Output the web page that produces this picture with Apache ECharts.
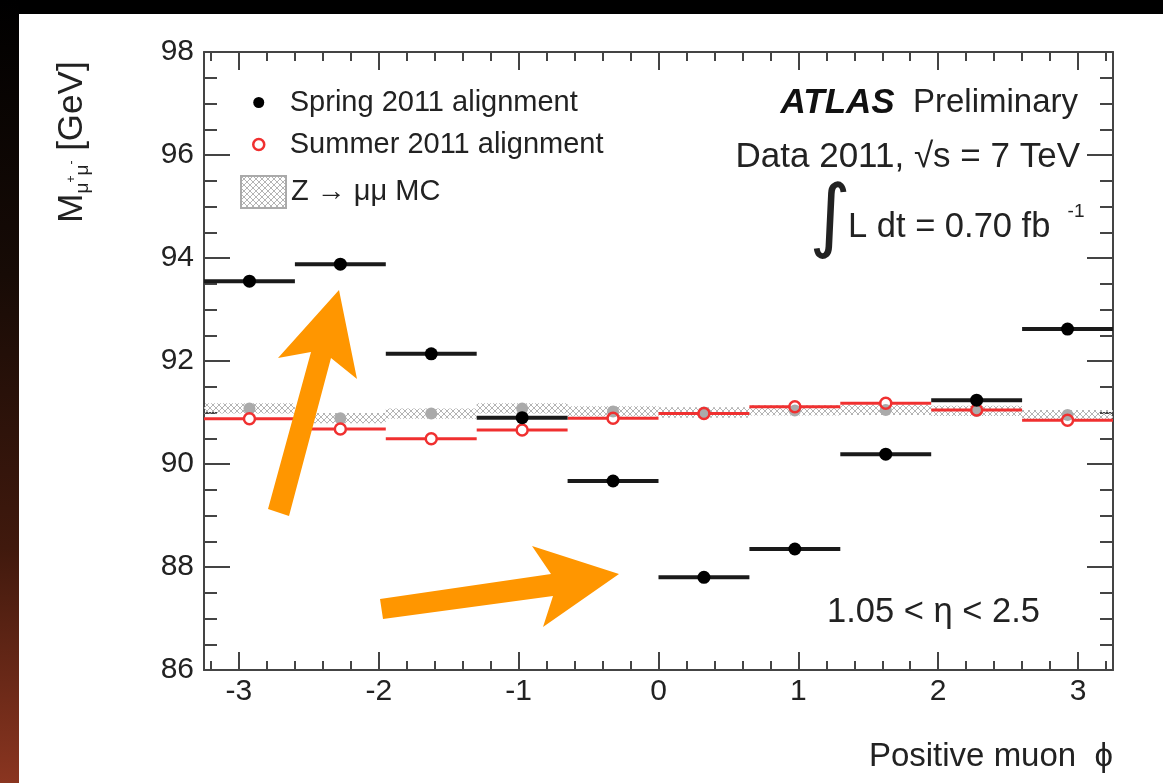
<!DOCTYPE html>
<html>
<head>
<meta charset="utf-8">
<script src="https://cdn.jsdelivr.net/npm/echarts@6/dist/echarts.min.js"></script>
<style>
  html, body { margin: 0; padding: 0; background: #000; }
  #chart { width: 1163px; height: 783px; }
</style>
</head>
<body>
<div id="chart"></div>
<script>
// phi bins: 10 bins of width 0.65 between -3.25 and 3.25
var phiCenters = [-2.925, -2.275, -1.625, -0.975, -0.325, 0.325, 0.975, 1.625, 2.275, 2.925];
var phiHalfWidth = 0.325;

// dimuon mass per bin [GeV]
var springMass = [93.55, 93.88, 92.14, 90.90, 89.67, 87.80, 88.35, 90.19, 91.24, 92.62];
var summerMass = [90.88, 90.68, 90.49, 90.66, 90.89, 90.98, 91.11, 91.18, 91.05, 90.85];
var mcMass     = [91.08, 90.89, 90.98, 91.08, 91.02, 91.00, 91.04, 91.05, 91.03, 90.95];
var mcErr      = [0.10, 0.10, 0.10, 0.10, 0.10, 0.10, 0.10, 0.10, 0.10, 0.10];

var xMajorTicks = [-3, -2, -1, 0, 1, 2, 3];
var xMinorTicks = [-3.2, -3.0, -2.8, -2.6, -2.4, -2.2, -2.0, -1.8, -1.6, -1.4, -1.2, -1.0, -0.8, -0.6, -0.4, -0.2, 0,
                   0.2, 0.4, 0.6, 0.8, 1.0, 1.2, 1.4, 1.6, 1.8, 2.0, 2.2, 2.4, 2.6, 2.8, 3.0, 3.2];

var FONT = 'Liberation Sans, Arial, Helvetica, sans-serif';
var AXIS_COLOR = '#444';

function makeHatch() {
  var c = document.createElement('canvas');
  c.width = 6; c.height = 6;
  var ctx = c.getContext('2d');
  ctx.strokeStyle = '#b4b4b4';
  ctx.lineWidth = 1;
  ctx.beginPath();
  ctx.moveTo(0, 0); ctx.lineTo(6, 6);
  ctx.moveTo(6, 0); ctx.lineTo(0, 6);
  ctx.stroke();
  return c;
}
var hatch = { image: makeHatch(), repeat: 'repeat' };

function pairs(ys) {
  return phiCenters.map(function (x, i) { return [x, ys[i], i]; });
}

// horizontal bin-width bar with a marker at the centre
function pointRenderer(o) {
  return function (params, api) {
    var x = api.value(0), y = api.value(1);
    var c = api.coord([x, y]);
    var l = api.coord([x - phiHalfWidth, y]);
    var r = api.coord([x + phiHalfWidth, y]);
    var gap = o.gap || 0;
    var kids = [];
    if (o.lineWidth) {
      kids.push({ type: 'line', shape: { x1: l[0], y1: l[1], x2: c[0] - gap, y2: c[1] },
        style: { stroke: o.color, lineWidth: o.lineWidth } });
      kids.push({ type: 'line', shape: { x1: c[0] + gap, y1: c[1], x2: r[0], y2: r[1] },
        style: { stroke: o.color, lineWidth: o.lineWidth } });
    }
    kids.push({ type: 'circle', shape: { cx: c[0], cy: c[1], r: o.r },
      style: { fill: o.fill, stroke: o.stroke || null, lineWidth: o.strokeWidth || 0 } });
    return { type: 'group', children: kids };
  };
}

function renderMC(params, api) {
  var x = api.value(0), y = api.value(1), i = api.value(2);
  var p1 = api.coord([x - phiHalfWidth, y + mcErr[i]]);
  var p2 = api.coord([x + phiHalfWidth, y - mcErr[i]]);
  var c = api.coord([x, y]);
  return { type: 'group', children: [
    { type: 'rect', shape: { x: p1[0], y: p1[1], width: p2[0] - p1[0], height: p2[1] - p1[1] },
      style: { fill: hatch } },
    { type: 'circle', shape: { cx: c[0], cy: c[1], r: 6 }, style: { fill: '#aaaaaa' } }
  ] };
}

function xAxisDef(pos, ticks, len, labels, line) {
  return {
    type: 'value', position: pos, min: -3.25, max: 3.25,
    axisLine: { show: line, onZero: false, lineStyle: { color: AXIS_COLOR, width: 2 } },
    axisTick: { show: true, inside: true, length: len, customValues: ticks,
      lineStyle: { color: AXIS_COLOR, width: 2 } },
    axisLabel: labels ? { show: true, customValues: ticks, margin: 7,
      fontFamily: FONT, fontSize: 30, color: '#222' } : { show: false },
    splitLine: { show: false }
  };
}

function yAxisDef(pos, labels) {
  return {
    type: 'value', position: pos, min: 86, max: 98, interval: 2,
    axisLine: { show: true, onZero: false, lineStyle: { color: AXIS_COLOR, width: 2 } },
    axisTick: { show: true, inside: true, length: 26, lineStyle: { color: AXIS_COLOR, width: 2 } },
    minorTick: { show: true, splitNumber: 4, length: 13, lineStyle: { color: AXIS_COLOR, width: 2 } },
    axisLabel: labels ? { show: true, margin: 10, fontFamily: FONT, fontSize: 30, color: '#222' } : { show: false },
    splitLine: { show: false }
  };
}

var chart = echarts.init(document.getElementById('chart'));

var bottomX = xAxisDef('bottom', xMajorTicks, 18, true, true);
bottomX.name = 'Positive muon  \u03d5';
bottomX.nameLocation = 'end';
bottomX.nameGap = 0;
bottomX.nameTextStyle = { fontFamily: FONT, fontSize: 33, color: '#222', align: 'right',
  verticalAlign: 'top', padding: [70, 0, 0, 0] };

var option = {
  backgroundColor: '#fff',
  animation: false,
  grid: { left: 204, right: 50, top: 52, bottom: 113 },
  xAxis: [
    bottomX,
    xAxisDef('bottom', xMinorTicks, 9, false, false),
    xAxisDef('top', xMajorTicks, 18, false, true),
    xAxisDef('top', xMinorTicks, 9, false, false)
  ],
  yAxis: [yAxisDef('left', true), yAxisDef('right', false)],
  legend: [
    {
      orient: 'vertical', left: 247, top: 83, itemWidth: 36, itemHeight: 11, itemGap: 13,
      selectedMode: false,
      textStyle: { fontFamily: FONT, fontSize: 29, color: '#222', padding: [0, 0, 0, 8] },
      data: [
        { name: 'Spring 2011 alignment', icon: 'circle', itemStyle: { color: '#000' } },
        { name: 'Summer 2011 alignment', icon: 'circle',
          itemStyle: { color: '#fff', borderColor: '#f03030', borderWidth: 2.5 } }
      ]
    },
    {
      orient: 'vertical', left: 235, top: 170, itemWidth: 45, itemHeight: 32,
      selectedMode: false,
      textStyle: { fontFamily: FONT, fontSize: 29, color: '#222' },
      data: [
        { name: 'Z \u2192 \u03bc\u03bc MC', icon: 'rect',
          itemStyle: { color: hatch, borderColor: '#aaa', borderWidth: 2 } }
      ]
    }
  ],
  series: [
    {
      name: 'Z \u2192 \u03bc\u03bc MC', type: 'custom', z: 2,
      renderItem: renderMC, data: pairs(mcMass)
    },
    {
      name: 'Summer 2011 alignment', type: 'custom', z: 3,
      renderItem: pointRenderer({ color: '#f03030', lineWidth: 3, r: 5.5, gap: 5.5,
        fill: 'rgba(0,0,0,0)', stroke: '#f03030', strokeWidth: 2.5 }),
      data: pairs(summerMass)
    },
    {
      name: 'Spring 2011 alignment', type: 'custom', z: 4,
      renderItem: pointRenderer({ color: '#1a1a1a', lineWidth: 4, r: 6.5, fill: '#000' }),
      data: pairs(springMass)
    }
  ],
  graphic: [
    // page frame: black top band and dark red gradient strip on the left
    { type: 'rect', shape: { x: 0, y: 0, width: 1163, height: 14 }, style: { fill: '#000' }, z: 0 },
    { type: 'rect', shape: { x: 0, y: 0, width: 19, height: 783 }, z: 0,
      style: { fill: new echarts.graphic.LinearGradient(0, 0, 0, 1, [
        { offset: 0, color: '#000' }, { offset: 0.35, color: '#170b06' },
        { offset: 0.7, color: '#40190d' }, { offset: 1, color: '#8a3520' }]) } },
    // y axis title
    { type: 'text', x: 72, y: 142, rotation: Math.PI / 2, z: 10,
      style: {
        text: '{m|M}{s|\u03bc}{p|+}{s|\u03bc}{p|-}{m| [GeV]}',
        align: 'center', verticalAlign: 'middle', fill: '#222',
        rich: {
          m: { fontFamily: FONT, fontSize: 35, lineHeight: 40, verticalAlign: 'middle', fill: '#222' },
          s: { fontFamily: FONT, fontSize: 19, lineHeight: 19, verticalAlign: 'bottom', fill: '#222' },
          p: { fontFamily: FONT, fontSize: 12, lineHeight: 12, verticalAlign: 'middle', fill: '#222' }
        }
      } },
    // ATLAS labels
    { type: 'text', x: 1078, y: 103, z: 10,
      style: {
        text: '{b|ATLAS}{n|  Preliminary}', align: 'right', verticalAlign: 'middle',
        rich: {
          b: { fontFamily: FONT, fontSize: 35, fontWeight: 'bold', fontStyle: 'italic', fill: '#111' },
          n: { fontFamily: FONT, fontSize: 33, fill: '#222' }
        }
      } },
    { type: 'text', x: 1080, y: 157, z: 10,
      style: { text: 'Data 2011, \u221as = 7 TeV', align: 'right', verticalAlign: 'middle',
        fontFamily: FONT, fontSize: 35, fill: '#222' } },
    { type: 'text', x: 830, y: 221, z: 10,
      style: { text: '\u222b', align: 'center', verticalAlign: 'middle',
        fontFamily: 'DejaVu Sans', fontSize: 80, fill: '#222' } },
    { type: 'text', x: 848, y: 227, z: 10,
      style: { text: 'L dt = 0.70 fb', align: 'left', verticalAlign: 'middle',
        fontFamily: FONT, fontSize: 34.5, fill: '#222' } },
    { type: 'text', x: 1076, y: 212, z: 10,
      style: { text: '-1', align: 'center', verticalAlign: 'middle',
        fontFamily: FONT, fontSize: 19, fill: '#222' } },
    { type: 'text', x: 827, y: 612, z: 10,
      style: { text: '1.05 < \u03b7 < 2.5', align: 'left', verticalAlign: 'middle',
        fontFamily: FONT, fontSize: 34.5, fill: '#222' } },
    // orange annotation arrows
    { type: 'polygon', z: 100,
      shape: { points: [[339, 290], [357, 379], [331, 358], [289, 516], [268, 509], [311, 352], [278, 358]] },
      style: { fill: '#ff9600' } },
    { type: 'polygon', z: 100,
      shape: { points: [[619, 574], [532, 546], [551, 574], [380, 599], [383, 619], [553, 596], [543, 627]] },
      style: { fill: '#ff9600' } }
  ]
};

chart.setOption(option);
window.addEventListener('resize', chart.resize);
</script>
</body>
</html>
